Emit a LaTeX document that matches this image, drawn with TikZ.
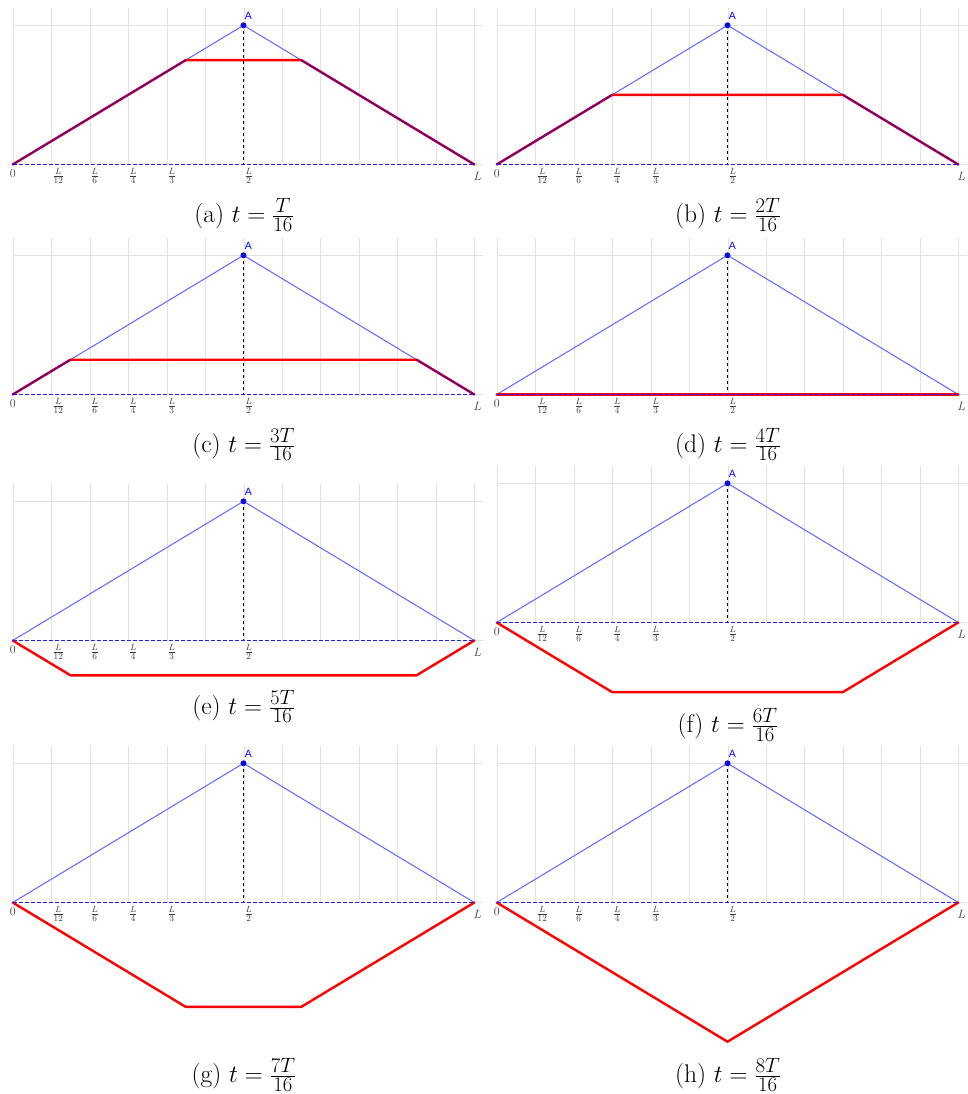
\documentclass[tikz,border=0pt]{standalone}
\usepackage{fontspec}
\newfontfamily\labelfont{Liberation Sans}
\definecolor{gridgray}{RGB}{226,226,226}
\definecolor{tribblue}{RGB}{100,100,255}
\definecolor{axblue}{RGB}{30,30,255}
\definecolor{dotblue}{RGB}{10,10,220}
\definecolor{strred}{RGB}{255,0,0}
\definecolor{strpurple}{RGB}{115,0,125}
\definecolor{labgray}{RGB}{60,60,60}
\tikzset{
  gridline/.style={draw=gridgray,line width=1.2pt},
  triline/.style={draw=tribblue,line width=1pt},
  redline/.style={draw=strred,line width=2.4pt,line join=round,line cap=round},
  purpleline/.style={draw=strpurple,line width=1.7pt,line cap=round},
  axisline/.style={draw=axblue,line width=1.1pt,dash pattern=on 4pt off 2pt},
  vertline/.style={draw=black,line width=0.8pt,dash pattern=on 3pt off 3pt},
  axlab/.style={inner sep=0pt,text=labgray,font=\fontsize{12.5}{14}\selectfont},
  alab/.style={inner sep=0pt,text=blue,font=\labelfont\fontsize{10.5}{12}\selectfont},
  capnode/.style={inner sep=0pt,anchor=base,font=\fontsize{25.5}{30}\selectfont}
}
\newcommand\capsz[1]{\mbox{\fontsize{20}{20}\selectfont$#1$}}
% #1 name, #2 x offset, #3 y of A line, #4 k, #5 caption offset, #6 letter, #7 numerator
\newcommand\wavepanel[7]{%
\begin{scope}[shift={(#2,#3)}]
  \pgfmathsetmacro\cxl{abs(4-#4)*57.7}
  \pgfmathsetmacro\cxr{461.6-\cxl}
  \pgfmathsetmacro\cyy{34.8*#4}
  \foreach \i in {0,...,12} {%
    \pgfmathsetmacro\gx{round(#2+\i*38.467)+0.5-#2}
    \draw[gridline] (\gx,-17) -- (\gx,139.2);}
  \draw[gridline] (0,0) -- (470.3,0);
  \draw[gridline] (461.6,139.2) -- (470.3,139.2);
  \coordinate (#1O) at (0,139.2);
  \coordinate (#1L) at (461.6,139.2);
  \coordinate (#1M) at (230.8,139.2);
  \coordinate (#1A) at (230.8,0);
  \coordinate (#1P) at (\cxl,\cyy);
  \coordinate (#1Q) at (\cxr,\cyy);
  \draw[triline] (#1O) -- (#1A) -- (#1L);
  \draw[vertline] (#1A) -- (#1M);
  \draw[redline] (#1O) -- (#1P) -- (#1Q) -- (#1L);
  \ifnum#4<4 \draw[purpleline] (#1O) -- (#1P); \draw[purpleline] (#1Q) -- (#1L);\fi
  \draw[axisline] (#1O) -- (#1L);
  \fill[dotblue] (#1A) circle (3);
  \node[alab] (#1An) at (235.6,-9.5) {A};
  \node[axlab] (#1n0) at (0,148.7) {$0$};
  \node[axlab] (#1nL) at (465,151.4) {$L$};
  \node[axlab] (#1n12) at (45.6,150.7) {$\frac{L}{12}$};
  \node[axlab] (#1n6) at (82,150.7) {$\frac{L}{6}$};
  \node[axlab] (#1n4) at (120.6,150.7) {$\frac{L}{4}$};
  \node[axlab] (#1n3) at (159,150.7) {$\frac{L}{3}$};
  \node[axlab] (#1n2) at (236,150.7) {$\frac{L}{2}$};
  \node[capnode] (#1cap) at (231.3,#5+6) {(#6) $t=\frac{\capsz{#7}}{\capsz{16}}$};
\end{scope}}
\begin{document}
\begin{tikzpicture}[x=1pt,y=-1pt]
\useasboundingbox (0,0) rectangle (967,1094);
\fill[white] (0,0) rectangle (967,1094);
\wavepanel{a}{12.7}{25.3}{1}{191.4}{a}{T}
\wavepanel{b}{496.7}{25.3}{2}{191.4}{b}{2T}
\wavepanel{c}{12.7}{255.3}{3}{190.7}{c}{3T}
\wavepanel{d}{496.7}{255.3}{4}{190.7}{d}{4T}
\wavepanel{e}{12.7}{501.3}{5}{207}{e}{5T}
\wavepanel{f}{496.7}{483.3}{6}{243.4}{f}{6T}
\wavepanel{g}{12.7}{763.3}{7}{313.4}{g}{7T}
\wavepanel{h}{496.7}{763.3}{8}{313.4}{h}{8T}
\end{tikzpicture}
\end{document}
